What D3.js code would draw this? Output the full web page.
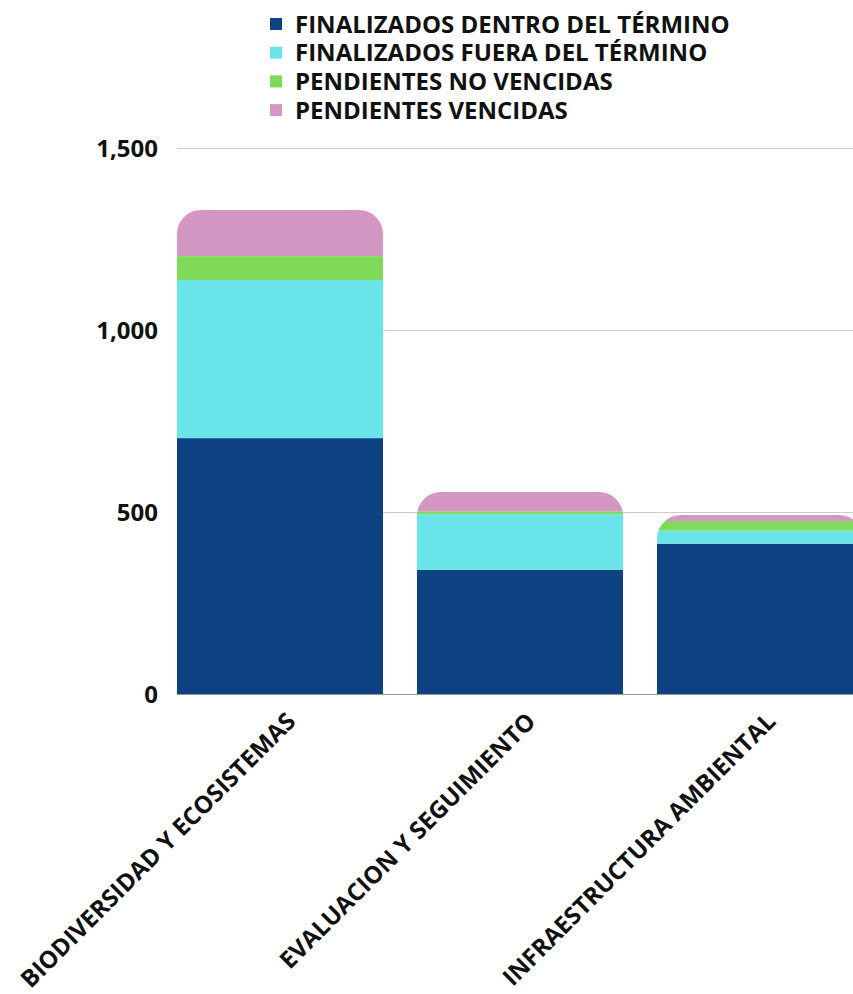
<!DOCTYPE html>
<html><head><meta charset="utf-8">
<script src="https://cdn.jsdelivr.net/npm/d3@7"></script>
<style>
html,body{margin:0;padding:0;background:#fff;}
svg{display:block;font-family:"Open Sans",sans-serif;}
</style></head>
<body>
<svg id="chart" width="853" height="994"></svg>
<script>
const categories = ["BIODIVERSIDAD Y ECOSISTEMAS", "EVALUACION Y SEGUIMIENTO", "INFRAESTRUCTURA AMBIENTAL"];
const seriesNames = ["FINALIZADOS DENTRO DEL TÉRMINO", "FINALIZADOS FUERA DEL TÉRMINO", "PENDIENTES NO VENCIDAS", "PENDIENTES VENCIDAS"];
const dentro = [703, 341, 413];
const fuera = [434, 153, 36];
const noVencidas = [66, 8, 26];
const vencidas = [127, 53, 17];
const yTicks = [0, 500, 1000, 1500];
const colors = ["#0F4282", "#69E4E8", "#80DA5A", "#D496C2"];

const svg = d3.select("#chart");
const W = 853;
const rows = categories.map((c, i) => ({cat: c, s0: dentro[i], s1: fuera[i], s2: noVencidas[i], s3: vencidas[i]}));
const keys = ["s0", "s1", "s2", "s3"];
const stacked = d3.stack().keys(keys)(rows);

const x = d3.scaleBand().domain(categories).range([177, 863]).paddingInner(34/240).paddingOuter(0);
const y = d3.scaleLinear().domain([0, 1500]).range([694, 148]);

// gridlines
svg.append("g").selectAll("line").data(yTicks.filter(d => d > 0)).join("line")
  .attr("x1", 177).attr("x2", W).attr("y1", d => y(d)).attr("y2", d => y(d))
  .attr("stroke", "#cccccc").attr("stroke-width", 1).attr("shape-rendering", "crispEdges");

// y labels
svg.append("g").selectAll("text").data(yTicks).join("text")
  .attr("x", 158).attr("y", d => y(d)).attr("dy", "0.36em")
  .attr("text-anchor", "end").attr("font-size", 24).attr("font-weight", 700).attr("fill", "#111")
  .text(d => d3.format(",")(d));

// clip paths (rounded top of each stack)
const r = 24;
const defs = svg.append("defs");
rows.forEach((d, i) => {
  const total = d.s0 + d.s1 + d.s2 + d.s3;
  const x0 = x(d.cat), x1 = x0 + x.bandwidth();
  const yt = y(total), yb = y(0);
  const rr = Math.min(r, (yb - yt));
  const p = d3.path();
  p.moveTo(x0, yb);
  p.lineTo(x0, yt + rr);
  p.arcTo(x0, yt, x0 + rr, yt, rr);
  p.lineTo(x1 - rr, yt);
  p.arcTo(x1, yt, x1, yt + rr, rr);
  p.lineTo(x1, yb);
  p.closePath();
  defs.append("clipPath").attr("id", "clip" + i).append("path").attr("d", p.toString());
});

// bars
const barG = svg.append("g");
rows.forEach((d, i) => {
  const g = barG.append("g").attr("clip-path", `url(#clip${i})`);
  stacked.forEach((s, k) => {
    const v = s[i];
    g.append("rect")
      .attr("x", x(d.cat)).attr("width", x.bandwidth())
      .attr("y", y(v[1])).attr("height", Math.max(0, y(v[0]) - y(v[1])))
      .attr("fill", colors[k]);
  });
});

// baseline
svg.append("line").attr("x1", 177).attr("x2", W).attr("y1", y(0) + 0.5).attr("y2", y(0) + 0.5)
  .attr("stroke", "#999").attr("stroke-width", 1);

// x labels
svg.append("g").selectAll("text").data(categories).join("text")
  .attr("transform", d => `translate(${x(d) + x.bandwidth()/2 + 17},${723}) rotate(-45)`)
  .attr("text-anchor", "end").attr("font-size", 24).attr("font-weight", 700).attr("fill", "#111")
  .text(d => d);

// legend
const leg = svg.append("g");
seriesNames.forEach((n, i) => {
  const cy = 24 + i * 28.7;
  leg.append("rect").attr("x", 270).attr("y", cy - 6).attr("width", 12).attr("height", 12).attr("fill", colors[i]);
  leg.append("text").attr("x", 295).attr("y", cy).attr("dy", "0.36em")
    .attr("font-size", 24).attr("font-weight", 700).attr("fill", "#111").text(n);
});
</script>
</body></html>
